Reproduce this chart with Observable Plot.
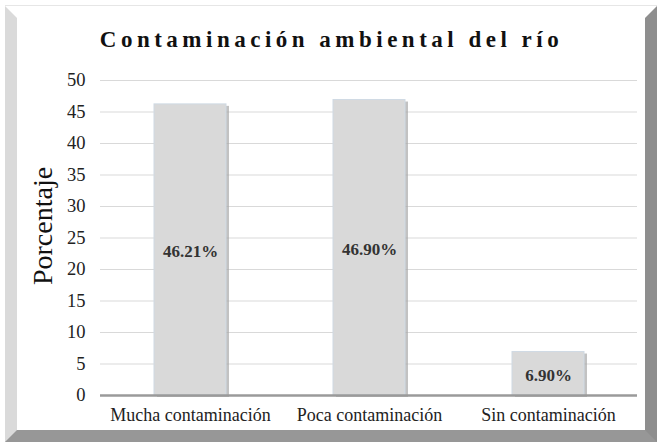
<!DOCTYPE html>
<html>
<head>
<meta charset="utf-8">
<script src="https://cdn.jsdelivr.net/npm/d3@7"></script>
<script src="https://cdn.jsdelivr.net/npm/@observablehq/plot@0.6"></script>
<style>
  html, body { margin: 0; padding: 0; background: #fff; }
  #wrap { position: relative; width: 663px; height: 447px; overflow: hidden; font-family: "Liberation Serif", serif; }
  #frame {
    position: absolute; left: 5px; top: 6px; width: 652px; height: 436px; box-sizing: border-box;
    border-left: 12px solid #dadada; border-top: 12px solid #ffffff;
    border-right: 12px solid #8e8e8e; border-bottom: 12px solid #979797;
    box-shadow: 0 -1px 0 #e6e6e6;
  }
  #title {
    position: absolute; left: 0; width: 663px; top: 27px; text-align: center;
    font-family: "Liberation Serif", serif; font-weight: bold; font-size: 23px; letter-spacing: 4.5px; color: #111;
  }
  #chart { position: absolute; left: 0; top: 0; }
  #chart svg, #chart svg text { font-family: "Liberation Serif", serif !important; }
</style>
</head>
<body>
<div id="wrap">
  <div id="frame"></div>
  <div id="chart"></div>
  <div id="title">Contaminación ambiental del río</div>
</div>
<script>
const categories = ["Mucha contaminación", "Poca contaminación", "Sin contaminación"];
const values = [46.21, 46.90, 6.90];
const labels = ["46.21%", "46.90%", "6.90%"];
const yTicks = [0, 5, 10, 15, 20, 25, 30, 35, 40, 45, 50];

const data = categories.map((c, i) => ({category: c, value: values[i], label: labels[i]}));
const serif = "Liberation Serif";

const plot = Plot.plot({
  width: 663,
  height: 447,
  marginLeft: 100,
  marginRight: 26,
  marginTop: 80,
  marginBottom: 52,
  style: {background: "transparent", fontFamily: serif, color: "#333"},
  x: {domain: categories, paddingInner: 0.6, paddingOuter: 0.3, label: null},
  y: {domain: [0, 50], ticks: yTicks, label: null},
  marks: [
    Plot.ruleY(yTicks.filter(d => d > 0), {stroke: "#d9d9d9", strokeWidth: 1.2}),
    Plot.barY(data, {x: "category", y: "value", fill: "#a8a8a8", fillOpacity: 0.7, dx: 3, dy: 2}),
    Plot.barY(data, {x: "category", y: "value", fill: "#d9d9d9", stroke: "#cfdae4", strokeWidth: 1}),
    Plot.ruleY([0], {stroke: "#9a9a9a", strokeWidth: 2.5}),
    Plot.text(data, {x: "category", y: d => d.value / 2, text: "label", fontSize: 17, fontFamily: serif, fill: "#333", fontWeight: "bold", dy: 2}),
    Plot.axisY({ticks: yTicks, tickSize: 0, tickPadding: 15, fontSize: 18.5, fontFamily: serif, fill: "#222", label: null}),
    Plot.axisX({tickSize: 0, tickPadding: 13, fontSize: 18, fontFamily: serif, fill: "#222", label: null}),
    Plot.text(["Porcentaje"], {frameAnchor: "left", textAnchor: "middle", dx: -57, dy: -12, rotate: -90, fontSize: 28, fontFamily: serif, fill: "#111"})
  ]
});
document.getElementById("chart").appendChild(plot);
</script>
</body>
</html>
